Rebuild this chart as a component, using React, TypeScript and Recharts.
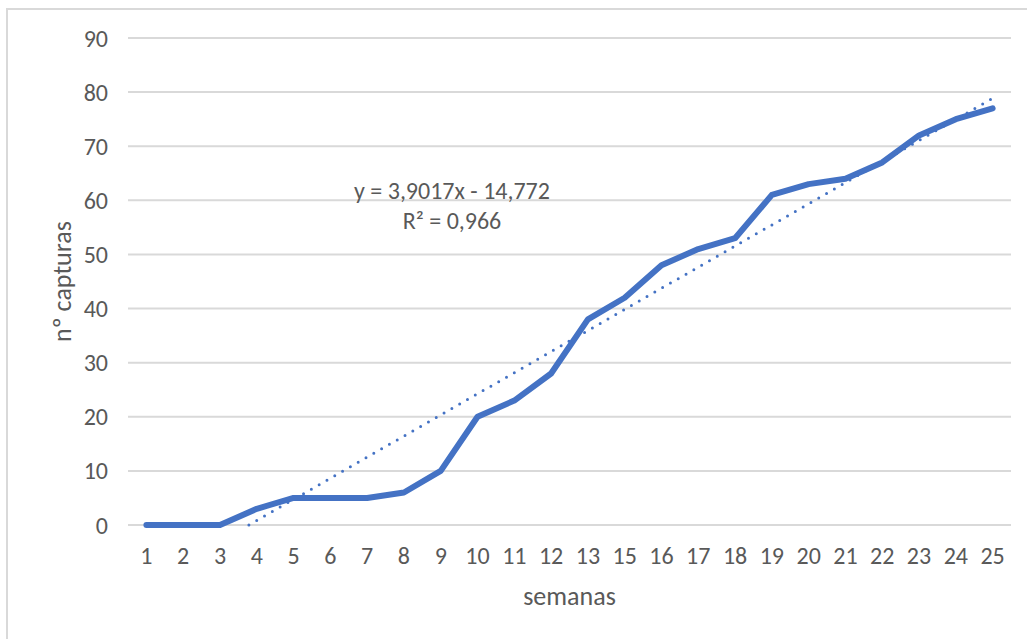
import React from "react";
import { LineChart, Line, XAxis, YAxis, CartesianGrid, Label } from "recharts";

// categories (semanas) — week 14 absent in source
const weeks = ["1","2","3","4","5","6","7","8","9","10","11","12","13","15","16","17","18","19","20","21","22","23","24","25"];
// nº capturas (cumulative)
const captures = [0,0,0,3,5,5,5,6,10,20,23,28,38,42,48,51,53,61,63,64,67,72,75,77];
const yTicks = [0,10,20,30,40,50,60,70,80,90];
// trendline as displayed in the chart
const slope = 3.9017;
const intercept = -14.772;
const r2 = "0,966";

const data = weeks.map((w, i) => ({ idx: i + 1, week: w, value: captures[i] }));
const n = weeks.length;
const xStart = -intercept / slope;
const trendData = [
  { idx: xStart, trend: slope * xStart + intercept },
  { idx: n, trend: slope * n + intercept },
];
const xTicks = weeks.map((_, i) => i + 1);

const FONT = "Carlito, 'Open Sans', sans-serif";
const GRAY = "#595959";
const BLUE = "#4472C4";

export default function App() {
  return (
    <div style={{ position: "absolute", left: 0, top: 0, width: 1027, height: 639, background: "#fff", overflow: "hidden", fontFamily: FONT }}>
      <div style={{ position: "absolute", left: 6, top: 8, width: 1100, height: 700, borderLeft: "2px solid #d9d9d9", borderTop: "2px solid #d9d9d9", boxSizing: "border-box" }} />
      <div style={{ position: "absolute", left: 0, top: 0 }}>
        <LineChart width={1027} height={639} margin={{ top: 38, right: 16, bottom: 34, left: 8 }}>
          <CartesianGrid horizontal={true} vertical={false} stroke="#d9d9d9" strokeWidth={2} />
          <XAxis
            dataKey="idx"
            type="number"
            domain={[0.5, n + 0.5]}
            allowDataOverflow
            ticks={xTicks}
            interval={0}
            tickFormatter={(v: number) => weeks[v - 1] ?? ""}
            axisLine={false}
            tickLine={false}
            tickMargin={16}
            height={80}
            tick={{ fill: GRAY, fontSize: 24, fontFamily: FONT }}
          >
            <Label value="semanas" position="insideBottom" offset={0} style={{ fill: GRAY, fontSize: 26, fontFamily: FONT }} />
          </XAxis>
          <YAxis
            domain={[0, 90]}
            ticks={yTicks}
            interval={0}
            axisLine={false}
            tickLine={false}
            tickMargin={14}
            width={120}
            tick={{ fill: GRAY, fontSize: 24, fontFamily: FONT }}
          >
            <Label value="nº capturas" angle={-90} position="insideLeft" offset={54} style={{ fill: GRAY, fontSize: 26, fontFamily: FONT, textAnchor: "middle" }} />
          </YAxis>
          <Line data={trendData} dataKey="trend" type="linear" stroke={BLUE} strokeWidth={3} strokeDasharray="0 9" strokeLinecap="round" dot={false} activeDot={false} isAnimationActive={false} />
          <Line data={data} dataKey="value" type="linear" stroke={BLUE} strokeWidth={6} strokeLinejoin="round" strokeLinecap="round" dot={false} activeDot={false} isAnimationActive={false} />
        </LineChart>
      </div>
      <div style={{ position: "absolute", left: 302, width: 300, top: 176, textAlign: "center", color: GRAY, fontSize: 24, lineHeight: "30px" }}>
        <div>y = {String(slope).replace(".", ",")}x - {String(-intercept).replace(".", ",")}</div>
        <div>R² = {r2}</div>
      </div>
    </div>
  );
}
